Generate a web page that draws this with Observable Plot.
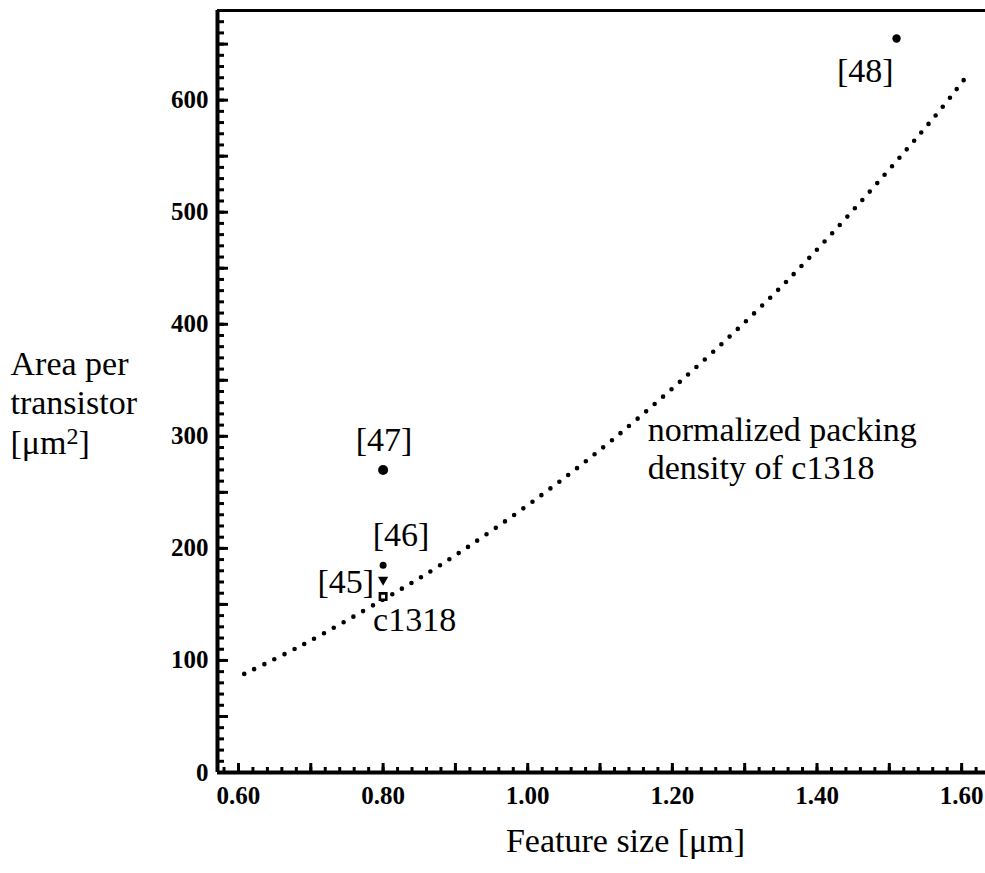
<!DOCTYPE html>
<html>
<head>
<meta charset="utf-8">
<script src="https://cdn.jsdelivr.net/npm/d3@7"></script>
<script src="https://cdn.jsdelivr.net/npm/@observablehq/plot@0.6"></script>
<style>
  html, body { margin: 0; padding: 0; background: white; }
</style>
</head>
<body>
<div id="chart"></div>
<script>
// ---- data ----
const refLabels = ["[45]", "[46]", "[47]", "[48]", "c1318"];
const featureSize = [0.80, 0.80, 0.80, 1.51, 0.80];       // µm
const areaPerTransistor = [172, 185, 270, 655, 157];       // µm²

// dotted curve: normalized packing density of c1318
const curveFeature = [0.608, 0.686, 0.799, 0.879, 1.022, 1.156, 1.359, 1.561, 1.610];
const curveArea    = [88, 113, 154, 185, 249, 318, 439, 584, 624];

const curveNote = ["normalized packing\ndensity of c1318"];
const noteFeature = [1.166];
const noteArea = [290];

const xTickLabels = [0.6, 0.8, 1.0, 1.2, 1.4, 1.6];
const yTickLabels = [0, 100, 200, 300, 400, 500, 600];
const xDomain = [0.571, 1.633];
const yDomain = [0, 680];

const xTitle = "Feature size [μm]";
const yTitle = "Area per\ntransistor\n[μm2]";

// ---- chart ----
const pts = refLabels.map((label, i) => ({label, x: featureSize[i], y: areaPerTransistor[i]}));
const curve = curveFeature.map((x, i) => ({x, y: curveArea[i]}));
const note = curveNote.map((t, i) => ({t, x: noteFeature[i], y: noteArea[i]}));
const pick = (name) => pts.filter(d => d.label === name);

const serif = "Liberation Serif";
const labelFont = {fontFamily: serif, fontSize: 34};

const chart = Plot.plot({
  width: 985,
  height: 873,
  marginLeft: 217,
  marginRight: 0,
  marginTop: 10,
  marginBottom: 101,
  x: {domain: xDomain},
  y: {domain: yDomain},
  style: {fontFamily: serif, background: "white", color: "black"},
  marks: [
    // frame (left, bottom, top)
    Plot.ruleX([xDomain[0]], {stroke: "black", strokeWidth: 4}),
    Plot.ruleY([yDomain[0]], {stroke: "black", strokeWidth: 4}),
    Plot.ruleY([yDomain[1]], {stroke: "black", strokeWidth: 3}),

    // inward ticks, y
    Plot.axisY({ticks: d3.range(0, 681, 10), tickSize: -7, strokeWidth: 3, text: null, label: null}),
    Plot.axisY({ticks: d3.range(0, 681, 50), tickSize: -11, strokeWidth: 3, text: null, label: null}),
    Plot.axisY({ticks: yTickLabels, tickSize: 0, tickPadding: 9, tickFormat: d => String(d),
      fontSize: 25, fontWeight: "bold", label: null}),

    // inward ticks, x
    Plot.axisX({ticks: d3.range(0.58, 1.631, 0.02), tickSize: -5, strokeWidth: 3, text: null, label: null}),
    Plot.axisX({ticks: d3.range(0.6, 1.631, 0.1), tickSize: -9, strokeWidth: 3, text: null, label: null}),
    Plot.axisX({ticks: xTickLabels, tickSize: 0, tickPadding: 14, tickFormat: d => d.toFixed(2),
      fontSize: 25, fontWeight: "bold", label: null}),

    // dotted curve
    Plot.line(curve, {x: "x", y: "y", curve: "catmull-rom", stroke: "black", strokeWidth: 4.6,
      strokeLinecap: "round", strokeDasharray: "0 11.2"}),

    // markers
    Plot.dot(pick("[47]"), {x: "x", y: "y", r: 5, fill: "black"}),
    Plot.dot(pick("[46]"), {x: "x", y: "y", r: 3.5, fill: "black"}),
    Plot.dot(pick("[45]"), {x: "x", y: "y", r: 3.8, symbol: "triangle", rotate: 180, fill: "black"}),
    Plot.dot(pick("[48]"), {x: "x", y: "y", r: 4.2, fill: "black"}),
    Plot.dot(pick("c1318"), {x: "x", y: "y", r: 3.6, symbol: "square", fill: "white", stroke: "black", strokeWidth: 2.6}),

    // point labels
    Plot.text(pick("[47]"), {x: "x", y: "y", text: "label", dx: 1, dy: -30, ...labelFont}),
    Plot.text(pick("[46]"), {x: "x", y: "y", text: "label", dx: 18, dy: -30, ...labelFont}),
    Plot.text(pick("[45]"), {x: "x", y: "y", text: "label", dx: -9, dy: 2, textAnchor: "end", ...labelFont}),
    Plot.text(pick("[48]"), {x: "x", y: "y", text: "label", dx: -3, dy: 33, textAnchor: "end", ...labelFont}),
    Plot.text(pick("c1318"), {x: "x", y: "y", text: "label", dx: -10, dy: 24, textAnchor: "start", ...labelFont}),

    // curve note
    Plot.text(note, {x: "x", y: "y", text: "t", textAnchor: "start", lineHeight: 1.12, ...labelFont}),

    // axis titles
    Plot.text([xTitle], {frameAnchor: "bottom", dx: 24, dy: 79, lineAnchor: "bottom", ...labelFont}),
    Plot.text([yTitle], {frameAnchor: "left", dx: -207, dy: 10, textAnchor: "start", lineAnchor: "middle",
      lineHeight: 1.16, ...labelFont})
  ]
});

// raise the "2" of µm2 as a superscript (kept as real text)
d3.select(chart).selectAll("tspan").each(function() {
  if (this.textContent === "[μm2]") {
    const t = d3.select(this);
    t.text("[μm");
    t.append("tspan").attr("dy", -10).attr("font-size", 24).text("2");
    t.append("tspan").attr("dy", 10).text("]");
  }
});

document.getElementById("chart").appendChild(chart);
</script>
</body>
</html>
